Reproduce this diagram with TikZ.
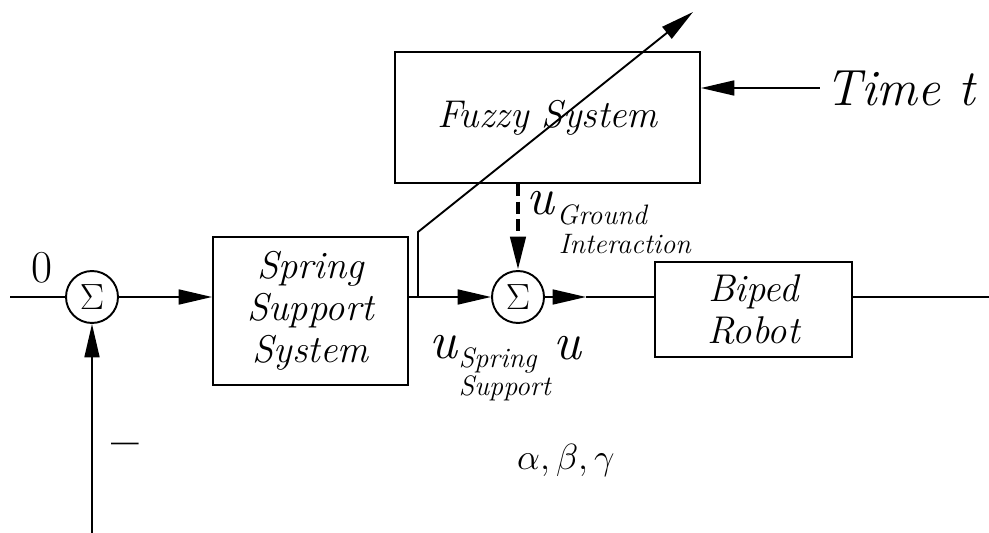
\documentclass[tikz,border=0pt]{standalone}
\usetikzlibrary{arrows.meta}

\tikzset{
  blk/.style={draw, line width=1.1pt, inner sep=2pt, align=center, font=\fontsize{22}{24}\selectfont\itshape},
  sumnode/.style={circle, draw, line width=1.1pt, minimum size=1.04cm, inner sep=0pt, font=\fontsize{20.74}{21}\selectfont},
  sig/.style={-{Triangle[length=19pt,width=8.5pt]}},
  lbl/.style={inner sep=0pt, font=\fontsize{21}{21}\selectfont\itshape},
  bigu/.style={inner sep=0pt, font=\fontsize{30}{30}\selectfont\itshape},
  sublbl/.style={inner sep=0pt, anchor=west, font=\fontsize{16}{16}\selectfont\itshape},
}

\begin{document}
\begin{tikzpicture}[x=0.02cm, y=-0.02cm, line width=1.1pt]
\useasboundingbox (0,0) rectangle (989,533);

% blocks
\node[blk, minimum width=3.9cm, minimum height=2.96cm] (spring) at (310.5,311) {Spring\\Support\\System};
\node[blk, minimum width=3.94cm, minimum height=1.9cm] (biped) at (753.5,309.5) {Biped\\Robot};
\node[blk, minimum width=6.1cm, minimum height=2.62cm] (fuzzy) at (547.5,117.5) {Fuzzy System};

% summing junctions
\node[sumnode] (s1) at (92,297) {$\Sigma$};
\node[sumnode] (s2) at (518,297) {$\Sigma$};

% main path
\coordinate (in) at (10,297);
\coordinate (br) at (418,297);
\coordinate (mid) at (586,297);
\coordinate (out) at (989,297);
\draw (in) -- (s1);
\draw[sig] (s1) -- (spring.west |- s1);
\draw (spring.east |- br) -- (br);
\draw[sig] (br) -- (s2);
\draw[sig] (s2) -- (mid);
\draw (mid) -- (biped.west |- mid);
\draw (biped.east |- out) -- (out);

% adaptation arrow through the fuzzy block
\coordinate (brtop) at (418,232);
\coordinate (tune) at (693,12);
\draw[sig] (br) -- (brtop) -- (tune);

% time input and ground interaction
\node[anchor=west, inner sep=0pt, font=\fontsize{29}{29}\selectfont\itshape] (time) at (825,88) {Time t};
\draw[sig] ([xshift=-3pt]time.west) -- (fuzzy.east |- time.west);
\draw[sig, line width=2.6pt, dash pattern=on 7pt off 3pt] (fuzzy.south -| s2) -- (s2.north);

% feedback
\coordinate (fb) at (92,533);
\draw[sig] (fb) -- (s1.south);
\node[lbl, font=\fontsize{28}{28}\selectfont\bfseries] (minus) at (125,450) {--};

% signal labels
\node[lbl, font=\fontsize{26}{26}\selectfont] (zero) at (42,268) {0};
\node[bigu] (ug) at (540,203) {u};
\node[sublbl] (ug1) at (556,215) {Ground};
\node[sublbl] (ug2) at (558,244) {Interaction};
\node[bigu] (us) at (443,347) {u};
\node[sublbl] (us1) at (458,360) {Spring};
\node[sublbl] (us2) at (458,388) {Support};
\node[bigu] (uo) at (567,348) {u};
\node[lbl] (abg) at (566,460) {$\alpha, \beta, \gamma$};
\end{tikzpicture}
\end{document}
